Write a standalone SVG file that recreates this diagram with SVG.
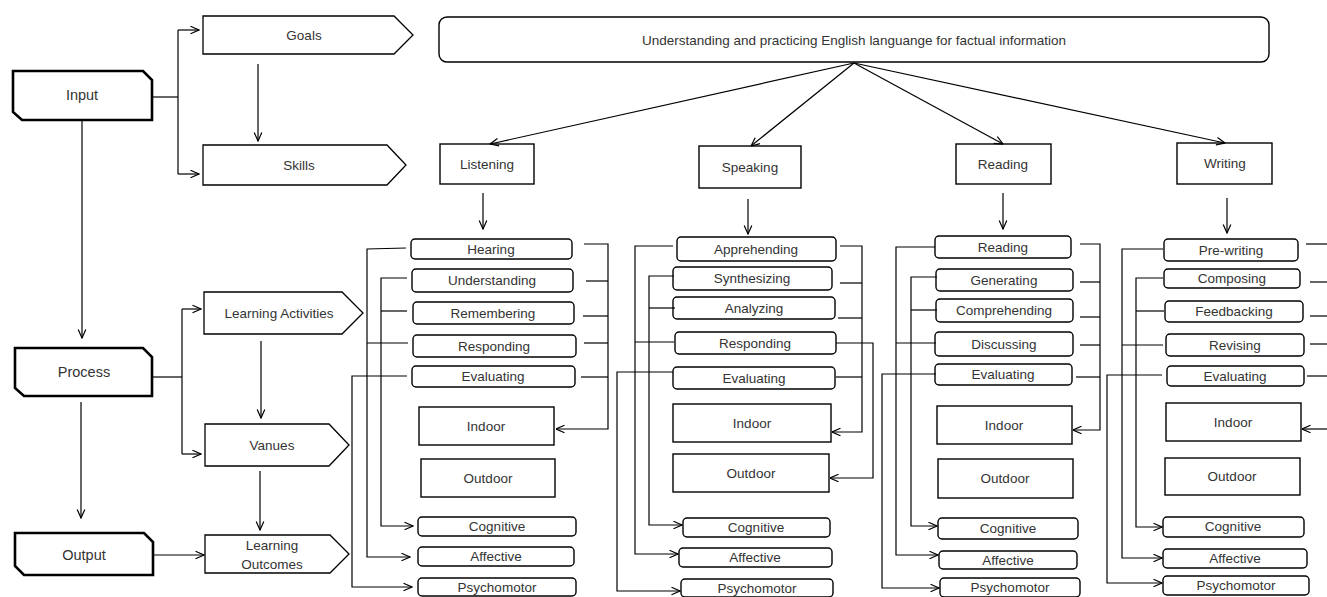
<svg xmlns="http://www.w3.org/2000/svg" width="1327" height="597" viewBox="0 0 1327 597">
<defs>
<marker id="ah" viewBox="0 0 10 10" refX="9.5" refY="5" markerWidth="10" markerHeight="10" markerUnits="userSpaceOnUse" orient="auto">
<path d="M1,1.2 L9.5,5 L1,8.8" fill="none" stroke="#000" stroke-width="1.2"/>
</marker>
<style>
.io{fill:#fff;stroke:#000;stroke-width:2.6;stroke-linejoin:miter}
.pent{fill:#fff;stroke:#000;stroke-width:1.3}
.box{fill:#fff;stroke:#000;stroke-width:1.4}
.rb{fill:#fff;stroke:#000;stroke-width:1.4}
.t{font-family:"Liberation Sans",Arial,sans-serif;font-size:13.5px;fill:#333;text-anchor:middle}
.tl{font-family:"Liberation Sans",Arial,sans-serif;font-size:14.5px;fill:#333;text-anchor:middle}
.c path{fill:none;stroke:#000;stroke-width:1.2}
.c .a{marker-end:url(#ah)}
</style>
</defs>
<rect width="1327" height="597" fill="#fff"/>

<g id="input"><path class="io" d="M13,71 H143 L152,80 V120 H22 L13,112 Z"/><text class="tl" x="82" y="100">Input</text></g>
<g id="process"><path class="io" d="M15,348 H143 L152,357 V396 H24 L15,388 Z"/><text class="tl" x="84" y="377">Process</text></g>
<g id="output"><path class="io" d="M15,533 H144 L153,542 V575 H24 L15,566 Z"/><text class="tl" x="84" y="560">Output</text></g>

<g id="goals"><path class="pent" d="M203,16 H394 L413,35 L394,54 H203 Z"/><text class="t" x="304" y="40">Goals</text></g>
<g id="skills"><path class="pent" d="M203,145 H387 L406,165 L387,185 H203 Z"/><text class="t" x="299" y="170">Skills</text></g>
<g id="learning-activities"><path class="pent" d="M204,292 H342 L363,313 L342,334 H204 Z"/><text class="t" x="279" y="318">Learning Activities</text></g>
<g id="vanues"><path class="pent" d="M205,424 H329 L349,445 L329,466 H205 Z"/><text class="t" x="272" y="450">Vanues</text></g>
<g id="learning-outcomes"><path class="pent" d="M205,535 H330 L349,554 L330,573 H205 Z"/><text class="t" x="272" y="550">Learning</text><text class="t" x="272" y="569">Outcomes</text></g>

<g id="goal-main"><rect class="rb" x="439" y="17" width="830" height="45" rx="8"/><text class="t" x="854" y="45" font-size="13.8">Understanding and practicing English languange for factual information</text></g>

<g id="listening"><rect class="box" x="440" y="144" width="94" height="40"/><text class="t" x="487" y="169">Listening</text></g>
<g id="speaking"><rect class="box" x="699" y="146" width="102" height="42"/><text class="t" x="750" y="172">Speaking</text></g>
<g id="reading"><rect class="box" x="956" y="144" width="95" height="40"/><text class="t" x="1003" y="169">Reading</text></g>
<g id="writing"><rect class="box" x="1177" y="143" width="95" height="41"/><text class="t" x="1225" y="168">Writing</text></g>

<!-- Listening column -->
<g id="l-hearing"><rect class="rb" x="411" y="239" width="161" height="20" rx="4"/><text class="t" x="491" y="254">Hearing</text></g>
<g id="l-understanding"><rect class="rb" x="412" y="269" width="161" height="23" rx="4"/><text class="t" x="492" y="285">Understanding</text></g>
<g id="l-remembering"><rect class="rb" x="413" y="302" width="161" height="22" rx="4"/><text class="t" x="493" y="318">Remembering</text></g>
<g id="l-responding"><rect class="rb" x="413" y="335" width="163" height="22" rx="4"/><text class="t" x="494" y="351">Responding</text></g>
<g id="l-evaluating"><rect class="rb" x="412" y="366" width="163" height="21" rx="4"/><text class="t" x="493" y="381">Evaluating</text></g>
<g id="l-indoor"><rect class="box" x="419" y="407" width="135" height="38"/><text class="t" x="486" y="431">Indoor</text></g>
<g id="l-outdoor"><rect class="box" x="421" y="459" width="134" height="38"/><text class="t" x="488" y="483">Outdoor</text></g>
<g id="l-cognitive"><rect class="rb" x="418" y="517" width="158" height="19" rx="4"/><text class="t" x="497" y="531">Cognitive</text></g>
<g id="l-affective"><rect class="rb" x="418" y="547" width="156" height="19" rx="4"/><text class="t" x="496" y="561">Affective</text></g>
<g id="l-psychomotor"><rect class="rb" x="418" y="578" width="158" height="18" rx="4"/><text class="t" x="497" y="592">Psychomotor</text></g>

<!-- Speaking column -->
<g id="s-apprehending"><rect class="rb" x="677" y="237" width="159" height="24" rx="4"/><text class="t" x="756" y="254">Apprehending</text></g>
<g id="s-synthesizing"><rect class="rb" x="673" y="267" width="159" height="23" rx="4"/><text class="t" x="752" y="283">Synthesizing</text></g>
<g id="s-analyzing"><rect class="rb" x="673" y="297" width="162" height="22" rx="4"/><text class="t" x="754" y="313">Analyzing</text></g>
<g id="s-responding"><rect class="rb" x="675" y="332" width="161" height="22" rx="4"/><text class="t" x="755" y="348">Responding</text></g>
<g id="s-evaluating"><rect class="rb" x="673" y="367" width="162" height="22" rx="4"/><text class="t" x="754" y="383">Evaluating</text></g>
<g id="s-indoor"><rect class="box" x="673" y="404" width="158" height="38"/><text class="t" x="752" y="428">Indoor</text></g>
<g id="s-outdoor"><rect class="box" x="673" y="454" width="156" height="38"/><text class="t" x="751" y="478">Outdoor</text></g>
<g id="s-cognitive"><rect class="rb" x="683" y="518" width="147" height="19" rx="4"/><text class="t" x="756" y="532">Cognitive</text></g>
<g id="s-affective"><rect class="rb" x="679" y="548" width="153" height="19" rx="4"/><text class="t" x="755" y="562">Affective</text></g>
<g id="s-psychomotor"><rect class="rb" x="681" y="579" width="152" height="18" rx="4"/><text class="t" x="757" y="593">Psychomotor</text></g>

<!-- Reading column -->
<g id="r-reading"><rect class="rb" x="935" y="236" width="136" height="22" rx="4"/><text class="t" x="1003" y="252">Reading</text></g>
<g id="r-generating"><rect class="rb" x="936" y="269" width="137" height="22" rx="4"/><text class="t" x="1004" y="285">Generating</text></g>
<g id="r-comprehending"><rect class="rb" x="936" y="299" width="137" height="23" rx="4"/><text class="t" x="1004" y="315">Comprehending</text></g>
<g id="r-discussing"><rect class="rb" x="935" y="332" width="138" height="24" rx="4"/><text class="t" x="1004" y="349">Discussing</text></g>
<g id="r-evaluating"><rect class="rb" x="935" y="364" width="137" height="21" rx="4"/><text class="t" x="1003" y="379">Evaluating</text></g>
<g id="r-indoor"><rect class="box" x="937" y="406" width="135" height="38"/><text class="t" x="1004" y="430">Indoor</text></g>
<g id="r-outdoor"><rect class="box" x="938" y="459" width="135" height="39"/><text class="t" x="1005" y="483">Outdoor</text></g>
<g id="r-cognitive"><rect class="rb" x="938" y="518" width="140" height="21" rx="4"/><text class="t" x="1008" y="533">Cognitive</text></g>
<g id="r-affective"><rect class="rb" x="939" y="551" width="138" height="18" rx="4"/><text class="t" x="1008" y="565">Affective</text></g>
<g id="r-psychomotor"><rect class="rb" x="940" y="578" width="140" height="19" rx="4"/><text class="t" x="1010" y="592">Psychomotor</text></g>

<!-- Writing column -->
<g id="w-prewriting"><rect class="rb" x="1164" y="239" width="134" height="22" rx="4"/><text class="t" x="1231" y="255">Pre-writing</text></g>
<g id="w-composing"><rect class="rb" x="1164" y="269" width="136" height="19" rx="4"/><text class="t" x="1232" y="283">Composing</text></g>
<g id="w-feedbacking"><rect class="rb" x="1165" y="301" width="138" height="21" rx="4"/><text class="t" x="1234" y="316">Feedbacking</text></g>
<g id="w-revising"><rect class="rb" x="1166" y="334" width="138" height="22" rx="4"/><text class="t" x="1235" y="350">Revising</text></g>
<g id="w-evaluating"><rect class="rb" x="1167" y="366" width="137" height="20" rx="4"/><text class="t" x="1235" y="381">Evaluating</text></g>
<g id="w-indoor"><rect class="box" x="1166" y="403" width="135" height="38"/><text class="t" x="1233" y="427">Indoor</text></g>
<g id="w-outdoor"><rect class="box" x="1165" y="458" width="135" height="37"/><text class="t" x="1232" y="481">Outdoor</text></g>
<g id="w-cognitive"><rect class="rb" x="1163" y="517" width="141" height="20" rx="4"/><text class="t" x="1233" y="531">Cognitive</text></g>
<g id="w-affective"><rect class="rb" x="1163" y="549" width="144" height="19" rx="4"/><text class="t" x="1235" y="563">Affective</text></g>
<g id="w-psychomotor"><rect class="rb" x="1163" y="576" width="146" height="19" rx="4"/><text class="t" x="1236" y="590">Psychomotor</text></g>

<g id="connectors" class="c">
<!-- left framework -->
<path d="M152,97 H178"/>
<path d="M178,30 V174"/>
<path class="a" d="M178,30 H199"/>
<path class="a" d="M178,174 H199"/>
<path class="a" d="M258,64 V141"/>
<path class="a" d="M82,120 V338"/>
<path d="M152,377 H182"/>
<path d="M182,309 V454"/>
<path class="a" d="M182,309 H201"/>
<path class="a" d="M182,454 H201"/>
<path class="a" d="M261,341 V418"/>
<path class="a" d="M260,471 V530"/>
<path class="a" d="M81,402 V518"/>
<path class="a" d="M153,555 H204"/>
<!-- top fan -->
<path class="a" d="M854,63 L490,144"/>
<path class="a" d="M854,63 L751,146"/>
<path class="a" d="M854,63 L1003,144"/>
<path class="a" d="M854,63 L1225,143"/>
<path class="a" d="M483,193 V229"/>
<path class="a" d="M748,199 V234"/>
<path class="a" d="M1003,193 V229"/>
<path class="a" d="M1227,198 V233"/>
<!-- Listening left -->
<path class="a" d="M406,248 L367,249 V557 H410"/>
<path class="a" d="M407,278 H381 V526 H413"/>
<path d="M407,311 H381"/>
<path d="M408,343 H367"/>
<path class="a" d="M407,376 H352 V587 H412"/>
<!-- Listening right -->
<path class="a" d="M584,244 H608 V429 H556"/>
<path d="M586,281 H608"/>
<path d="M583,316 H608"/>
<path d="M584,343 H608"/>
<path d="M581,377 H608"/>
<!-- Speaking left -->
<path class="a" d="M673,246 H635 V554 H678"/>
<path class="a" d="M674,276 H649 V525 H682"/>
<path d="M675,308 H649"/>
<path d="M674,342 H635"/>
<path class="a" d="M673,372 H617 V591 H680"/>
<!-- Speaking right -->
<path class="a" d="M840,246 H862 V432 H832"/>
<path d="M840,283 H862"/>
<path d="M838,318 H862"/>
<path d="M836,377 H862"/>
<path class="a" d="M836,343 H873 V478 H830"/>
<!-- Reading left -->
<path class="a" d="M935,247 H896 V555 H938"/>
<path class="a" d="M937,277 H911 V526 H937"/>
<path d="M937,310 H911"/>
<path d="M936,343 H896"/>
<path class="a" d="M936,374 H882 V588 H939"/>
<!-- Reading right -->
<path class="a" d="M1080,244 H1100 V430 H1073"/>
<path d="M1080,282 H1100"/>
<path d="M1080,317 H1100"/>
<path d="M1080,345 H1100"/>
<path d="M1076,377 H1100"/>
<!-- Writing left -->
<path class="a" d="M1163,249 H1122 V558 H1162"/>
<path class="a" d="M1163,278 H1136 V527 H1162"/>
<path d="M1164,311 H1136"/>
<path d="M1163,345 H1122"/>
<path class="a" d="M1162,375 H1107 V583 H1162"/>
<!-- Writing right -->
<path d="M1306,244 H1327"/>
<path d="M1310,282 H1327"/>
<path d="M1310,316 H1327"/>
<path d="M1310,344 H1327"/>
<path d="M1307,376 H1327"/>
<path class="a" d="M1327,429 H1302"/>
</g>
</svg>
